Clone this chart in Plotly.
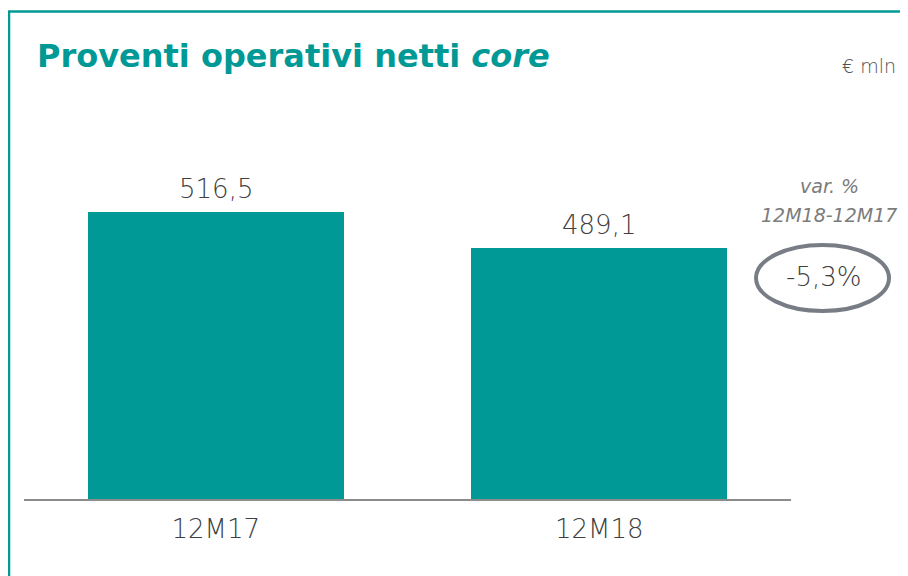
import plotly.graph_objects as go

categories = ["12M17", "12M18"]
values = [516.5, 489.1]
value_labels = ["516,5", "489,1"]
variation_label = "-5,3%"
title_main = "Proventi operativi netti "
title_italic = "core"
unit_label = "€ mln"
var_title = "var. %"
var_period = "12M18-12M17"

TEAL = "#009995"
GREY_TXT = "#404040"
FONT = "DejaVu Sans"

OFF = 8  # page body margin
W, H = 900, 568
L, R, T, B = 16, 117, 52, 77
PW, PH = W - L - R, H - T - B


def px(x):
    return (x - OFF - L) / PW


def py(y):
    return (H - B - (y - OFF)) / PH


fig = go.Figure()
fig.add_trace(go.Bar(
    x=categories, y=values,
    marker=dict(color=TEAL, line=dict(width=0)), width=0.667,
    hoverinfo="skip",
))

for c, v, t in zip(categories, values, value_labels):
    fig.add_annotation(x=c, y=v, xref="x", yref="y", text=t, showarrow=False,
                       yanchor="middle", yshift=23,
                       font=dict(size=26, color=GREY_TXT, family=FONT, weight=200))

fig.update_layout(
    width=W, height=H, margin=dict(l=L, r=R, t=T, b=B),
    paper_bgcolor="white", plot_bgcolor="white", showlegend=False,
    font=dict(family=FONT, color=GREY_TXT),
    xaxis=dict(range=[-0.5, 1.5], showline=True, linecolor="#8c8c8c", linewidth=2,
               showgrid=False, zeroline=False, ticks="",
               tickfont=dict(size=26, color=GREY_TXT, family=FONT, weight=200),
               ticklabelstandoff=6),
    yaxis=dict(range=[298, 632], visible=False, showgrid=False, zeroline=False),
    bargap=0,
)

shapes = [
    dict(type="line", xref="paper", yref="paper", x0=px(8), x1=px(910), y0=py(11.5), y1=py(11.5),
         line=dict(color=TEAL, width=2.5)),
    dict(type="line", xref="paper", yref="paper", x0=px(9), x1=px(9), y0=py(11), y1=py(590),
         line=dict(color=TEAL, width=2.5)),
    dict(type="circle", xref="paper", yref="paper", x0=px(756), x1=px(889), y0=py(311), y1=py(245),
         line=dict(color="#777c85", width=4)),
]
fig.update_layout(shapes=shapes)

annotations = [
    dict(x=px(35), y=py(56), xref="paper", yref="paper", xanchor="left", yanchor="middle",
         text=f"<b>{title_main}<i>{title_italic}</i></b>", showarrow=False,
         font=dict(size=32, color=TEAL, family=FONT)),
    dict(x=px(898), y=py(66), xref="paper", yref="paper", xanchor="right", yanchor="middle",
         text=unit_label, showarrow=False, font=dict(size=19, color="#505050", family=FONT, weight=200)),
    dict(x=px(829), y=py(186), xref="paper", yref="paper", xanchor="center", yanchor="middle",
         text=f"<i>{var_title}</i>", showarrow=False,
         font=dict(size=19, color="#7c7c7c", family=FONT, weight=400)),
    dict(x=px(829), y=py(215), xref="paper", yref="paper", xanchor="center", yanchor="middle",
         text=f"<i>{var_period}</i>", showarrow=False,
         font=dict(size=19, color="#7c7c7c", family=FONT, weight=400)),
    dict(x=px(823), y=py(277), xref="paper", yref="paper", xanchor="center", yanchor="middle",
         text=variation_label, showarrow=False,
         font=dict(size=26, color=GREY_TXT, family=FONT, weight=200)),
]
for a in annotations:
    fig.add_annotation(**a)

fig.write_html("out.html")
